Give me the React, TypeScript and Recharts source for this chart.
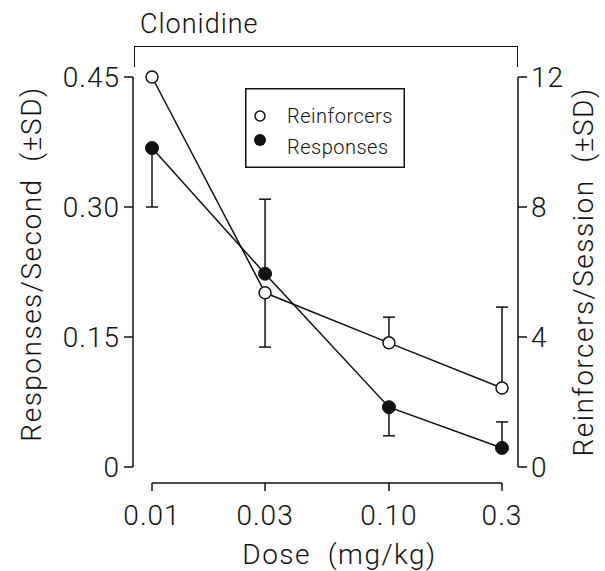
import { LineChart, Line, XAxis, YAxis, ErrorBar, Legend, ReferenceLine } from "recharts"

const doses = [0.01, 0.03, 0.1, 0.3]
const doseLabels = ["0.01", "0.03", "0.10", "0.3"]

// responses per second (left axis), SD drawn one-sided as [down, up]
const responses = [0.368, 0.223, 0.069, 0.022]
const responsesSD = [[0.068, 0], [0, 0.086], [0.033, 0], [0, 0.03]]

// reinforcers per session (right axis)
const reinforcers = [12, 5.36, 3.82, 2.43]
const reinforcersSD = [[0, 0], [1.67, 0], [0, 0.79], [0, 2.49]]

const leftTicks = [0, 0.15, 0.3, 0.45]
const leftTickLabels = ["0", "0.15", "0.30", "0.45"]
const rightTicks = [0, 4, 8, 12]
const rightTickLabels = ["0", "4", "8", "12"]

const data = doses.map((dose, i) => ({
  dose,
  responses: responses[i],
  responsesSD: responsesSD[i],
  reinforcers: reinforcers[i],
  reinforcersSD: reinforcersSD[i],
}))

const font = "Roboto, 'Liberation Sans', sans-serif"
const ink = "#111"

function DoseTick({ x, y, payload }: any) {
  const label = doseLabels[doses.indexOf(payload.value)]
  return (
    <g>
      <line x1={x} x2={x} y1={y + 16} y2={y + 24} stroke={ink} strokeWidth={1.5} />
      <text x={x} y={y + 58} textAnchor="middle" fill={ink} fontSize={28} fontWeight={300} fontFamily={font} letterSpacing={1}>
        {label}
      </text>
    </g>
  )
}

function doseTitle(props: any) {
  const vb = props.viewBox
  return (
    <text
      x={vb.x + vb.width / 2 + 14}
      y={vb.y + 97}
      textAnchor="middle"
      fill={ink}
      fontSize={28}
      fontWeight={300}
      fontFamily={font}
      letterSpacing={1.5}
    >
      {"Dose\u00a0\u00a0(mg/kg)"}
    </text>
  )
}

function sideTitle(text: string, cx: number, dy: number) {
  return (props: any) => {
    const vb = props.viewBox
    const cy = vb.y + vb.height / 2 + dy
    return (
      <text
        x={cx}
        y={cy}
        transform={`rotate(-90, ${cx}, ${cy})`}
        textAnchor="middle"
        dominantBaseline="central"
        fill={ink}
        fontSize={28}
        fontWeight={300}
        fontFamily={font}
        letterSpacing={1.5}
      >
        {text}
      </text>
    )
  }
}

function LegendBox() {
  return (
    <svg width={160} height={80} style={{ display: "block" }}>
      <rect x={0.75} y={0.75} width={158.5} height={78.5} fill="#fff" stroke={ink} strokeWidth={1.5} />
      <circle cx={15} cy={28} r={5} fill="#fff" stroke={ink} strokeWidth={1.5} />
      <text x={42} y={35} fill={ink} fontSize={20} fontWeight={300} fontFamily={font} letterSpacing={0.5}>
        Reinforcers
      </text>
      <circle cx={15} cy={52} r={6} fill={ink} />
      <text x={42} y={66} fill={ink} fontSize={20} fontWeight={300} fontFamily={font} letterSpacing={0.5}>
        Responses
      </text>
    </svg>
  )
}

export default function App() {
  const tickStyle = { fill: ink, fontSize: 28, fontWeight: 300, fontFamily: font, letterSpacing: 1 }
  return (
    <div style={{ position: "absolute", left: 0, top: 0, width: 605, height: 571, background: "#fff" }}>
      <div
        style={{
          position: "absolute",
          left: 140,
          top: 8,
          fontFamily: font,
          fontWeight: 300,
          fontSize: 27,
          letterSpacing: 1,
          color: ink,
        }}
      >
        Clonidine
      </div>
      <div
        style={{
          position: "absolute",
          left: 134,
          top: 46,
          width: 382,
          height: 20,
          borderTop: `1.5px solid ${ink}`,
          borderLeft: `1.5px solid ${ink}`,
          borderRight: `1.5px solid ${ink}`,
        }}
      />
      <LineChart width={605} height={571} data={data} margin={{ top: 77, right: 27, bottom: 44, left: 73 }}>
        <XAxis
          dataKey="dose"
          type="number"
          scale="log"
          domain={[0.01, 0.3]}
          ticks={doses}
          padding={{ left: 19, right: 16 }}
          axisLine={false}
          tickLine={false}
          tickSize={0}
          tickMargin={0}
          height={60}
          tick={DoseTick}
          label={{ content: doseTitle }}
        />
        <YAxis
          yAxisId="left"
          domain={[0, 0.45]}
          ticks={leftTicks}
          tickFormatter={(v: number) => leftTickLabels[leftTicks.indexOf(v)]}
          width={60}
          tickSize={9}
          tickMargin={4}
          axisLine={{ stroke: ink, strokeWidth: 1.5 }}
          tickLine={{ stroke: ink, strokeWidth: 1.5 }}
          tick={tickStyle}
          label={{ content: sideTitle("Responses/Second\u00a0\u00a0(\u00b1SD)", 31, -8) }}
        />
        <YAxis
          yAxisId="right"
          orientation="right"
          domain={[0, 12]}
          ticks={rightTicks}
          tickFormatter={(v: number) => rightTickLabels[rightTicks.indexOf(v)]}
          width={60}
          tickSize={9}
          tickMargin={4}
          axisLine={{ stroke: ink, strokeWidth: 1.5 }}
          tickLine={{ stroke: ink, strokeWidth: 1.5 }}
          tick={tickStyle}
          label={{ content: sideTitle("Reinforcers/Session\u00a0\u00a0(\u00b1SD)", 583, 0) }}
        />
        <ReferenceLine
          yAxisId="left"
          ifOverflow="visible"
          segment={[
            { x: doses[0], y: -0.0185 },
            { x: doses[doses.length - 1], y: -0.0185 },
          ]}
          stroke={ink}
          strokeWidth={1.5}
        />
        <Legend
          layout="vertical"
          align="center"
          verticalAlign="middle"
          wrapperStyle={{ left: 245, top: 88, width: 160, height: 80 }}
          content={LegendBox}
        />
        <Line
          yAxisId="right"
          dataKey="reinforcers"
          name="Reinforcers"
          type="linear"
          stroke={ink}
          strokeWidth={1.5}
          dot={{ r: 6, fill: "#fff", stroke: ink, strokeWidth: 1.5 }}
          isAnimationActive={false}
        >
          <ErrorBar dataKey="reinforcersSD" width={6} stroke={ink} strokeWidth={1.5} />
        </Line>
        <Line
          yAxisId="left"
          dataKey="responses"
          name="Responses"
          type="linear"
          stroke={ink}
          strokeWidth={1.5}
          dot={{ r: 6.5, fill: ink, stroke: ink, strokeWidth: 1 }}
          isAnimationActive={false}
        >
          <ErrorBar dataKey="responsesSD" width={6} stroke={ink} strokeWidth={1.5} />
        </Line>
      </LineChart>
    </div>
  )
}
